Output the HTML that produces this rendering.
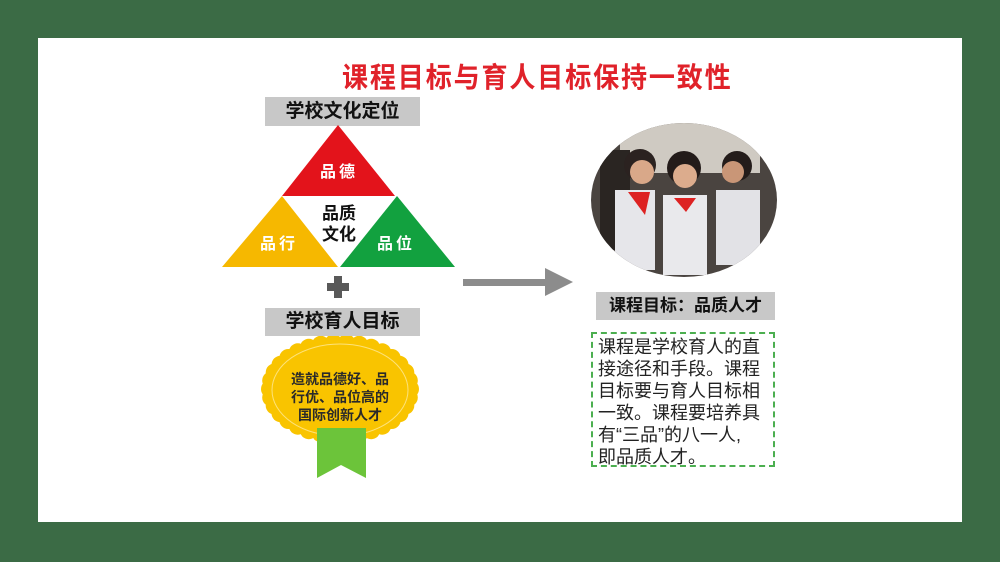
<!DOCTYPE html>
<html><head><meta charset="utf-8"><style>
html,body{margin:0;padding:0}
body{width:1000px;height:562px;background:#3b6b45;position:relative;overflow:hidden;font-family:"Liberation Sans","Noto Sans CJK SC",sans-serif}
.panel{position:absolute;left:38px;top:38px;width:924px;height:484px;background:#fff}
.t{position:absolute;white-space:nowrap;font-weight:bold}
.gray{position:absolute;background:#c8c8c8;font-weight:bold;text-align:center;color:#111}
</style></head><body>
<div class="panel"></div>
<div class="t" style="left:342px;top:56px;font-size:28px;color:#e0222a;letter-spacing:2px;transform:scaleX(0.93);transform-origin:left">课程目标与育人目标保持一致性</div>
<div class="gray" style="left:265px;top:97px;width:155px;height:29px;line-height:29px;font-size:19px">学校文化定位</div>
<svg style="position:absolute;left:0;top:0" width="1000" height="562">
<polygon points="338,125 282,196 395,196" fill="#e3131b"/>
<polygon points="222,267 282,196 338,267" fill="#f6b800"/>
<polygon points="340,267 397,196 455,267" fill="#12a13f"/>
<rect x="334" y="276" width="8" height="22" fill="#595959"/>
<rect x="327" y="283" width="22" height="8" fill="#595959"/>
<g fill="#f9c400" id="seal"></g>
<ellipse cx="340" cy="390" rx="68" ry="46" fill="none" stroke="#fde27a" stroke-width="1"/>
<polygon points="317,428 366,428 366,478 341,465 317,478" fill="#6cc43a"/>
<rect x="463" y="279" width="84" height="7" fill="#8c8c8c"/>
<polygon points="545,268 573,282 545,296" fill="#8c8c8c"/>
<defs><clipPath id="c"><ellipse cx="684" cy="200" rx="93" ry="77"/></clipPath></defs>
<g clip-path="url(#c)">
<rect x="590" y="120" width="190" height="160" fill="#4a4440"/>
<rect x="620" y="123" width="140" height="50" fill="#cfcac2"/>
<rect x="600" y="150" width="30" height="100" fill="#2a2522"/>
<rect x="615" y="190" width="40" height="80" fill="#e6e6ea"/>
<rect x="663" y="195" width="44" height="80" fill="#e9e9ec"/>
<rect x="716" y="190" width="44" height="75" fill="#e2e2e6"/>
<circle cx="640" cy="165" r="16" fill="#2b2220"/><circle cx="642" cy="172" r="12" fill="#d9a889"/>
<circle cx="684" cy="168" r="17" fill="#231b19"/><circle cx="685" cy="176" r="12" fill="#dcac8d"/>
<circle cx="737" cy="166" r="15" fill="#241c1a"/><circle cx="733" cy="172" r="11" fill="#c99677"/>
<polygon points="628,192 650,192 645,215" fill="#d22"/><polygon points="674,198 696,198 686,212" fill="#d22"/>
</g>
</svg>
<script>
(function(){var g=document.getElementById('seal'),s='';var n=34;for(var i=0;i<n;i++){var a=i/n*2*Math.PI;s+='<circle cx="'+(340+70*Math.cos(a)).toFixed(1)+'" cy="'+(389+46*Math.sin(a)).toFixed(1)+'" r="9"/>';}s+='<ellipse cx="340" cy="389" rx="71" ry="47"/>';g.innerHTML=s;})();
</script>
<div class="t" style="left:320px;top:158px;font-size:16px;color:#fff;letter-spacing:3px">品德</div>
<div class="t" style="left:260px;top:230px;font-size:16px;color:#fff;letter-spacing:3px">品行</div>
<div class="t" style="left:377px;top:230px;font-size:16px;color:#fff;letter-spacing:3px">品位</div>
<div class="t" style="left:322px;top:203px;font-size:17px;color:#111;line-height:21px">品质<br>文化</div>
<div class="gray" style="left:265px;top:308px;width:155px;height:28px;line-height:28px;font-size:19px">学校育人目标</div>
<div class="t" style="left:280px;top:370px;width:120px;text-align:center;font-size:14px;line-height:18px;color:#2a2a2a">造就品德好、品<br>行优、品位高的<br>国际创新人才</div>
<div class="gray" style="left:596px;top:292px;width:179px;height:28px;line-height:28px;font-size:17px">课程目标：品质人才</div>
<div style="position:absolute;left:591px;top:332px;width:180px;height:131px;border:2px dashed #4caf50"></div>
<div style="position:absolute;left:598px;top:336px;font-size:18px;line-height:22px;color:#222;white-space:nowrap;letter-spacing:0">课程是学校育人的直<br>接途径和手段。课程<br>目标要与育人目标相<br>一致。课程要培养具<br>有“三品”的八一人,<br>即品质人才。</div>
</body></html>
